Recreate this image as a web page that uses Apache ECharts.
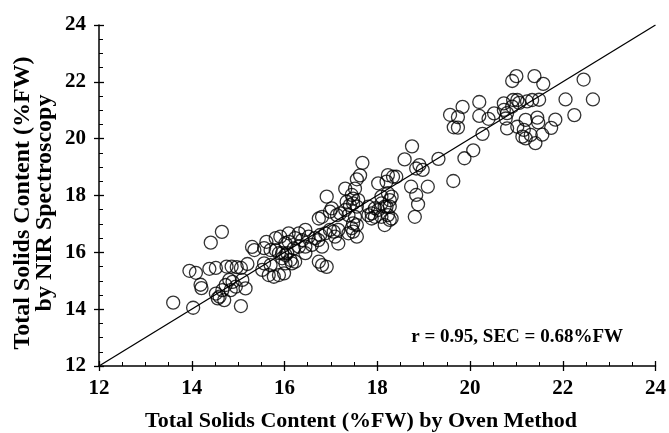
<!DOCTYPE html>
<html>
<head>
<meta charset="utf-8">
<script src="https://cdn.jsdelivr.net/npm/echarts@6/dist/echarts.min.js"></script>
<style>html,body{margin:0;padding:0;background:#fff;}#c{width:669px;height:433px;}</style>
</head>
<body>
<div id="c"></div>
<script>
// Oven method (x) values
var ovenX = [
13.60,14.03,13.95,14.09,14.19,14.21,14.38,14.41,14.65,14.52,
14.52,14.56,14.60,14.66,14.70,14.73,14.81,14.84,14.88,14.95,14.75,14.86,14.97,15.06,15.20,15.06,15.16,15.09,
15.30,15.35,15.52,15.56,15.70,15.56,15.61,15.70,15.66,15.77,15.88,15.99,15.91,15.95,15.81,15.81,15.95,15.88,
16.02,16.06,16.02,16.09,16.13,16.23,16.09,16.23,16.38,16.52,16.66,16.77,16.88,16.20,16.31,16.45,16.59,16.02,16.16,16.45,16.31,16.45,16.73,16.81,16.81,16.91,16.74,16.91,16.81,16.98,16.74,16.98,
17.06,17.16,17.09,17.16,17.13,17.20,17.02,17.31,17.52,17.45,17.34,17.48,17.59,17.38,17.52,17.56,17.48,17.45,17.38,17.56,17.68,17.63,17.56,17.48,17.31,17.41,17.56,17.81,17.95,17.81,17.88,17.95,17.88,17.48,
18.02,18.09,18.20,18.20,18.34,18.23,18.09,18.23,18.27,18.16,18.02,18.16,18.27,18.09,18.23,18.41,18.59,18.75,18.73,18.84,18.88,18.81,18.91,18.98,18.84,18.31,18.27,18.31,
19.09,19.32,19.64,19.88,20.07,19.84,19.57,19.74,19.65,19.74,
20.20,20.20,20.40,20.52,20.73,20.73,20.80,20.77,20.27,20.80,20.93,20.91,21.00,20.91,21.02,21.02,
21.06,21.23,21.34,21.49,21.39,21.58,21.20,21.45,21.47,21.84,21.75,21.56,21.41,21.31,21.16,21.13,21.20,
22.06,22.25,22.45,22.65
];
// NIR spectroscopy (y) values
var nirY = [
14.23,14.05,15.35,15.28,14.86,14.74,15.42,16.34,16.72,15.45,
14.55,14.38,14.44,14.67,14.32,14.85,15.03,14.67,14.96,14.79,15.50,15.50,15.48,15.45,15.59,14.11,14.73,15.03,
16.19,16.08,15.38,15.61,15.55,16.15,16.37,16.08,15.20,15.14,15.20,15.26,16.55,15.79,16.50,16.08,15.97,15.97,
16.32,15.97,15.61,16.67,15.73,15.67,16.37,16.50,16.43,16.55,16.50,16.61,16.67,16.14,16.20,16.20,16.26,15.91,15.61,15.97,16.67,16.79,16.43,16.20,15.55,15.49,15.67,17.96,17.25,17.43,17.19,16.79,
16.73,16.79,16.55,16.31,17.31,17.37,17.55,18.24,18.24,18.02,17.78,17.72,17.84,17.31,17.25,16.96,16.73,16.85,16.67,16.55,19.15,18.71,18.57,17.89,17.49,17.66,17.61,17.61,17.55,17.31,17.19,17.25,17.37,17.02,
18.43,17.72,17.61,18.49,18.66,18.72,17.25,17.31,17.14,16.96,17.49,17.61,17.84,17.96,18.08,18.66,19.27,19.73,18.31,18.02,17.69,17.25,19.07,18.90,18.95,17.96,17.61,17.19,
18.31,19.29,18.51,19.31,19.59,21.12,20.84,20.76,20.40,20.39,
21.29,20.80,20.70,20.89,21.24,21.01,20.90,20.71,20.17,20.36,21.36,21.13,22.20,22.03,20.42,21.36,
21.26,21.31,21.36,21.37,22.20,21.93,20.66,20.74,20.57,20.67,20.38,20.14,19.84,20.13,20.31,20.07,20.01,
21.38,20.83,22.08,21.38
];
// 1:1 reference line
var lineX = [12, 24];
var lineY = [12, 24];
var tickMin = 12, tickMax = 24, tickStep = 2;
var xTitle = 'Total Solids Content (%FW) by Oven Method';
var yTitle1 = 'Total Solids Content (%FW)';
var yTitle2 = 'by NIR Spectroscopy';
var statText = 'r = 0.95, SEC = 0.68%FW';

var pts = ovenX.map(function(v, i){ return [v, nirY[i]]; });
var linePts = lineX.map(function(v, i){ return [v, lineY[i]]; });
var FONT = '"Liberation Serif", "Times New Roman", serif';
var lbl = {color:'#000', fontFamily:FONT, fontWeight:'bold', fontSize:21};

function mainAxis(isX){
  return {
    type:'value', min:tickMin, max:tickMax, interval:tickStep,
    position: isX ? 'bottom' : 'left',
    axisLine:{show:true, lineStyle:{color:'#000', width:1.5}},
    axisTick:{show:true, inside:true, length:5, lineStyle:{color:'#000', width:1.3}},
    minorTick:{show:true, splitNumber:4, length:4, lineStyle:{color:'#000', width:1}},
    splitLine:{show:false},
    axisLabel:Object.assign({margin: isX ? 12 : 13}, lbl)
  };
}
function ghostAxis(isX){
  return {
    type:'value', min:tickMin, max:tickMax, interval:tickStep,
    position: isX ? 'bottom' : 'left',
    axisLine:{show:false},
    axisTick:{show:true, inside:false, length:5, lineStyle:{color:'#000', width:1.3}},
    splitLine:{show:false},
    axisLabel:{show:false}
  };
}

var chart = echarts.init(document.getElementById('c'), null, {renderer:'canvas'});
chart.setOption({
  animation:false,
  backgroundColor:'#fff',
  grid:{left:99, right:10, top:25, bottom:67, containLabel:false},
  xAxis:[mainAxis(true), ghostAxis(true)],
  yAxis:[mainAxis(false), ghostAxis(false)],
  series:[
    {type:'line', data:linePts, xAxisIndex:0, yAxisIndex:0, symbol:'none',
     lineStyle:{color:'#000', width:1.3}, z:1},
    {type:'scatter', data:pts, xAxisIndex:0, yAxisIndex:0, symbol:'circle', symbolSize:13,
     itemStyle:{color:'rgba(0,0,0,0)', borderColor:'#000', borderWidth:1.3}, z:2}
  ],
  graphic:[
    {type:'text', x:361, y:421,
     style:{text:xTitle, fill:'#000', font:'bold 22px ' + FONT, align:'center', verticalAlign:'middle'}},
    {type:'text', x:23, y:203, rotation:Math.PI/2,
     style:{text:yTitle1, fill:'#000', font:'bold 24px ' + FONT, align:'center', verticalAlign:'middle'}},
    {type:'text', x:45, y:203, rotation:Math.PI/2,
     style:{text:yTitle2, fill:'#000', font:'bold 24px ' + FONT, align:'center', verticalAlign:'middle'}},
    {type:'text', x:623, y:337,
     style:{text:statText, fill:'#000', font:'bold 19px ' + FONT, align:'right', verticalAlign:'middle'}}
  ]
});
</script>
</body>
</html>
